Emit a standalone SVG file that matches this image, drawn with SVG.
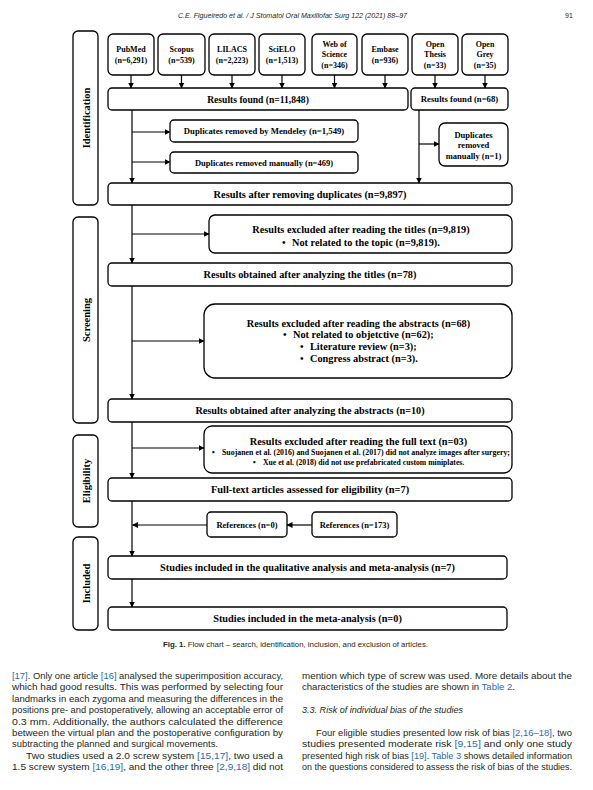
<svg xmlns="http://www.w3.org/2000/svg" width="593" height="790" viewBox="0 0 593 790">
<style>
.box{fill:#fff;stroke:#000;stroke-width:1.3}
.sb{font-family:"Liberation Serif","Times New Roman",serif;font-weight:bold;fill:#000;text-anchor:middle}
.st{text-anchor:start}
.c{stroke:#000;stroke-width:1.2;fill:none}
.body{font-family:"Liberation Sans",Arial,sans-serif;font-size:9px;fill:#231f20}
.lk{fill:#2a6aae}
.hd{font-family:"Liberation Sans",Arial,sans-serif;font-size:7px;fill:#231f20;font-style:italic}
</style>
<defs>
<marker id="ah" markerWidth="6" markerHeight="6" refX="5.5" refY="3" orient="auto" markerUnits="userSpaceOnUse">
<path d="M0,0 L6,3 L0,6 Z" fill="#000"/>
</marker>
</defs>
<rect width="593" height="790" fill="#fff"/>
<g id="header">
<text class="hd" x="178" y="18" textLength="229" lengthAdjust="spacingAndGlyphs">C.E. Figueiredo et al. / J Stomatol Oral Maxillofac Surg 122 (2021) 88–97</text>
<text class="hd" x="565" y="18" style="font-style:normal">91</text>
</g>
<g id="phases">
<rect class="box" x="73" y="31" width="25" height="174" rx="5"/>
<text class="sb" font-size="10.5" transform="translate(89.5,118) rotate(-90)">Identification</text>
<rect class="box" x="73" y="217" width="25" height="206" rx="5"/>
<text class="sb" font-size="10.5" transform="translate(89.5,320) rotate(-90)">Screening</text>
<rect class="box" x="73" y="435" width="25" height="92" rx="5"/>
<text class="sb" font-size="10.5" transform="translate(89.5,481) rotate(-90)">Eligibility</text>
<rect class="box" x="73" y="537" width="25" height="93" rx="5"/>
<text class="sb" font-size="10.5" transform="translate(89.5,583.5) rotate(-90)">Included</text>
</g>
<g id="sources" class="sb" font-size="8">
<g id="pubmed"><rect class="box" x="108" y="34" width="46" height="41" rx="5"/><text x="131" y="52.3">PubMed</text><text x="131" y="62.8">(n=6,291)</text></g>
<g id="scopus"><rect class="box" x="158" y="34" width="47" height="41" rx="5"/><text x="181.5" y="52.3">Scopus</text><text x="181.5" y="62.8">(n=539)</text></g>
<g id="lilacs"><rect class="box" x="209" y="34" width="46" height="41" rx="5"/><text x="232" y="52.3">LILACS</text><text x="232" y="62.8">(n=2,223)</text></g>
<g id="scielo"><rect class="box" x="259" y="34" width="46" height="41" rx="5"/><text x="282" y="52.3">SciELO</text><text x="282" y="62.8">(n=1,513)</text></g>
<g id="wos"><rect class="box" x="312" y="34" width="45" height="41" rx="5"/><text x="334.5" y="46.5">Web of</text><text x="334.5" y="57.3">Science</text><text x="334.5" y="68">(n=346)</text></g>
<g id="embase"><rect class="box" x="362" y="34" width="46" height="41" rx="5"/><text x="385" y="52.3">Embase</text><text x="385" y="62.8">(n=936)</text></g>
<g id="openthesis"><rect class="box" x="412" y="34" width="46" height="41" rx="5"/><text x="435" y="46.5">Open</text><text x="435" y="57.3">Thesis</text><text x="435" y="68">(n=33)</text></g>
<g id="opengrey"><rect class="box" x="462" y="34" width="46" height="41" rx="5"/><text x="485" y="46.5">Open</text><text x="485" y="57.3">Grey</text><text x="485" y="68">(n=35)</text></g>
</g>
<g id="connectors">
<line class="c" x1="131" y1="75" x2="131" y2="88" marker-end="url(#ah)"/>
<line class="c" x1="181.5" y1="75" x2="181.5" y2="88" marker-end="url(#ah)"/>
<line class="c" x1="232" y1="75" x2="232" y2="88" marker-end="url(#ah)"/>
<line class="c" x1="282" y1="75" x2="282" y2="88" marker-end="url(#ah)"/>
<line class="c" x1="334.5" y1="75" x2="334.5" y2="88" marker-end="url(#ah)"/>
<line class="c" x1="385" y1="75" x2="385" y2="88" marker-end="url(#ah)"/>
<line class="c" x1="435" y1="75" x2="435" y2="88" marker-end="url(#ah)"/>
<line class="c" x1="485" y1="75" x2="485" y2="88" marker-end="url(#ah)"/>
<line class="c" x1="132" y1="110" x2="132" y2="183" marker-end="url(#ah)"/>
<line class="c" x1="132" y1="132" x2="170" y2="132" marker-end="url(#ah)"/>
<line class="c" x1="132" y1="162" x2="170" y2="162" marker-end="url(#ah)"/>
<line class="c" x1="419" y1="110" x2="419" y2="183" marker-end="url(#ah)"/>
<line class="c" x1="419" y1="144" x2="439" y2="144" marker-end="url(#ah)"/>
<line class="c" x1="132" y1="205" x2="132" y2="263" marker-end="url(#ah)"/>
<line class="c" x1="132" y1="234" x2="209" y2="234" marker-end="url(#ah)"/>
<line class="c" x1="132" y1="286" x2="132" y2="399" marker-end="url(#ah)"/>
<line class="c" x1="132" y1="341" x2="204" y2="341" marker-end="url(#ah)"/>
<line class="c" x1="132" y1="422" x2="132" y2="478" marker-end="url(#ah)"/>
<line class="c" x1="132" y1="448" x2="204" y2="448" marker-end="url(#ah)"/>
<line class="c" x1="132" y1="501" x2="132" y2="556" marker-end="url(#ah)"/>
<line class="c" x1="207" y1="525" x2="132.5" y2="525" marker-end="url(#ah)"/>
<line class="c" x1="312" y1="525" x2="287" y2="525" marker-end="url(#ah)"/>
<line class="c" x1="132" y1="579" x2="132" y2="607" marker-end="url(#ah)"/>
</g>
<g id="found"><rect class="box" x="108" y="88" width="300" height="22" rx="4"/><text class="sb" font-size="9.6" x="258" y="102.8">Results found (n=11,848)</text></g>
<g id="found2"><rect class="box" x="411" y="88" width="97" height="22" rx="4"/><text class="sb" font-size="8.7" x="459.5" y="102.3">Results found (n=68)</text></g>
<g id="mendeley"><rect class="box" x="170" y="120" width="188" height="22" rx="4"/><text class="sb" font-size="8.7" x="264" y="134.3">Duplicates removed by Mendeley (n=1,549)</text></g>
<g id="manual"><rect class="box" x="170" y="152" width="188" height="21" rx="4"/><text class="sb" font-size="8.5" x="264" y="165.8">Duplicates removed manually (n=469)</text></g>
<g id="manual2"><rect class="box" x="439" y="123" width="69" height="43" rx="6"/><text class="sb" font-size="8.5" x="473.5" y="137.5">Duplicates</text><text class="sb" font-size="8.5" x="473.5" y="148">removed</text><text class="sb" font-size="8.5" x="473.5" y="158.5">manually (n=1)</text></g>
<g id="afterdup"><rect class="box" x="108" y="183" width="404" height="22" rx="4"/><text class="sb" font-size="10.4" x="310" y="197.8">Results after removing duplicates (n=9,897)</text></g>
<g id="excltitles"><rect class="box" x="209" y="215" width="303" height="38" rx="6"/><text class="sb" font-size="10.3" x="361" y="233.3">Results excluded after reading the titles (n=9,819)</text><text class="sb st" font-size="10.3" x="282" y="245.5">•</text><text class="sb st" font-size="10.3" x="292" y="245.5">Not related to the topic (n=9,819).</text></g>
<g id="aftertitles"><rect class="box" x="108" y="263" width="404" height="23" rx="4"/><text class="sb" font-size="10.3" x="310" y="278.2">Results obtained after analyzing the titles (n=78)</text></g>
<g id="exclabs"><rect class="box" x="204" y="304" width="308" height="74" rx="11"/>
<text class="sb" font-size="10.3" x="358.5" y="326.5">Results excluded after reading the abstracts (n=68)</text>
<text class="sb st" font-size="10.3" x="283" y="338.2">•</text><text class="sb st" font-size="10.3" x="293" y="338.2">Not related to objetctive (n=62);</text>
<text class="sb st" font-size="10.3" x="300" y="350.3">•</text><text class="sb st" font-size="10.3" x="310" y="350.3">Literature review (n=3);</text>
<text class="sb st" font-size="10.3" x="300" y="361.8">•</text><text class="sb st" font-size="10.3" x="310" y="361.8">Congress abstract (n=3).</text></g>
<g id="afterabs"><rect class="box" x="108" y="399" width="404" height="23" rx="4"/><text class="sb" font-size="10.2" x="310" y="414.2">Results obtained after analyzing the abstracts (n=10)</text></g>
<g id="exclfull"><rect class="box" x="204" y="426" width="308" height="47" rx="8"/>
<text class="sb" font-size="10.3" x="358.5" y="444.5">Results excluded after reading the full text (n=03)</text>
<text class="sb st" font-size="7.7" x="212" y="454.5">•</text><text class="sb st" font-size="7.7" x="222" y="454.5" textLength="288" lengthAdjust="spacingAndGlyphs">Suojanen et al. (2016) and Suojanen et al. (2017) did not analyze images after surgery;</text>
<text class="sb st" font-size="7.7" x="253" y="464.5">•</text><text class="sb st" font-size="7.7" x="263" y="464.5">Xue et al. (2018) did not use prefabricated custom miniplates.</text></g>
<g id="fulltext"><rect class="box" x="108" y="478" width="404" height="23" rx="4"/><text class="sb" font-size="10.4" x="310" y="493.3">Full-text articles assessed for eligibility (n=7)</text></g>
<g id="ref0"><rect class="box" x="207" y="512" width="80" height="25" rx="4"/><text class="sb" font-size="8.5" x="247" y="527.8">References (n=0)</text></g>
<g id="ref173"><rect class="box" x="312" y="512" width="85" height="25" rx="4"/><text class="sb" font-size="8.5" x="354.5" y="527.8">References (n=173)</text></g>
<g id="qual"><rect class="box" x="108" y="556" width="399" height="23" rx="4"/><text class="sb" font-size="10.3" x="307.5" y="571.2">Studies included in the qualitative analysis and meta-analysis (n=7)</text></g>
<g id="meta"><rect class="box" x="108" y="607" width="399" height="23" rx="4"/><text class="sb" font-size="10.3" x="307.5" y="622.2">Studies included in the meta-analysis (n=0)</text></g>
<g id="caption">
<text font-family="Liberation Sans,Arial,sans-serif" font-size="6.8" fill="#231f20" x="163" y="646.5" textLength="265" lengthAdjust="spacingAndGlyphs"><tspan font-weight="bold">Fig. 1.</tspan> Flow chart – search, identification, inclusion, and exclusion of articles.</text>
</g>
<g id="bodytext" class="body">
<text x="12" y="679" textLength="271" lengthAdjust="spacingAndGlyphs"><tspan class="lk">[17]</tspan>. Only one article <tspan class="lk">[16]</tspan> analysed the superimposition accuracy,</text>
<text x="12" y="690.4" textLength="271" lengthAdjust="spacingAndGlyphs">which had good results. This was performed by selecting four</text>
<text x="12" y="701.8" textLength="271" lengthAdjust="spacingAndGlyphs">landmarks in each zygoma and measuring the differences in the</text>
<text x="12" y="713.2" textLength="271" lengthAdjust="spacingAndGlyphs">positions pre- and postoperatively, allowing an acceptable error of</text>
<text x="12" y="724.6" textLength="271" lengthAdjust="spacingAndGlyphs">0.3 mm. Additionally, the authors calculated the difference</text>
<text x="12" y="736" textLength="271" lengthAdjust="spacingAndGlyphs">between the virtual plan and the postoperative configuration by</text>
<text x="12" y="747.4" textLength="206" lengthAdjust="spacingAndGlyphs">subtracting the planned and surgical movements.</text>
<text x="26" y="758.8" textLength="257" lengthAdjust="spacingAndGlyphs">Two studies used a 2.0 screw system <tspan class="lk">[15,17]</tspan>, two used a</text>
<text x="12" y="770.2" textLength="271" lengthAdjust="spacingAndGlyphs">1.5 screw system <tspan class="lk">[16,19]</tspan>, and the other three <tspan class="lk">[2,9,18]</tspan> did not</text>
<text x="302" y="679" textLength="270" lengthAdjust="spacingAndGlyphs">mention which type of screw was used. More details about the</text>
<text x="302" y="690.4" textLength="213" lengthAdjust="spacingAndGlyphs">characteristics of the studies are shown in <tspan class="lk">Table 2</tspan>.</text>
<text x="302" y="713.2" font-style="italic" textLength="161" lengthAdjust="spacingAndGlyphs">3.3. Risk of individual bias of the studies</text>
<text x="316" y="736" textLength="256" lengthAdjust="spacingAndGlyphs">Four eligible studies presented low risk of bias <tspan class="lk">[2,16–18]</tspan>, two</text>
<text x="302" y="747.4" textLength="270" lengthAdjust="spacingAndGlyphs">studies presented moderate risk <tspan class="lk">[9,15]</tspan> and only one study</text>
<text x="302" y="758.8" textLength="270" lengthAdjust="spacingAndGlyphs">presented high risk of bias <tspan class="lk">[19]</tspan>. <tspan class="lk">Table 3</tspan> shows detailed information</text>
<text x="302" y="770.2" textLength="270" lengthAdjust="spacingAndGlyphs">on the questions considered to assess the risk of bias of the studies.</text>
</g>
</svg>
